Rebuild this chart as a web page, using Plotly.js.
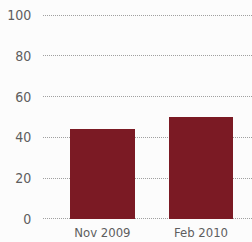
<!DOCTYPE html>
<html><head><meta charset="utf-8">
<script src="https://cdn.plot.ly/plotly-3.0.1.min.js"></script>
<style>html,body{margin:0;padding:0;background:#fcfcfc;}</style>
</head><body><div id="chart" style="width:252px;height:242px;"></div>
<script>
const categories = ["Nov 2009", "Feb 2010"];
const values = [44, 50];
const yTicks = [0, 20, 40, 60, 80, 100];

const trace = {
  type: 'bar', x: categories, y: values,
  width: 0.656,
  marker: {color: '#7b1a24', line: {width: 0}},
  hoverinfo: 'none'
};
const layout = {
  width: 252, height: 242,
  margin: {l: 43, r: 0, t: 14, b: 21.5, pad: 0},
  paper_bgcolor: '#fcfcfc', plot_bgcolor: '#fcfcfc',
  showlegend: false, bargap: 0,
  font: {family: '"DejaVu Sans Condensed", "Liberation Sans Narrow", sans-serif', size: 13, color: '#5e5e5e'},
  xaxis: {type: 'category', range: [-0.602, 1.517], showgrid: false, zeroline: false,
          showline: false, ticks: '', ticklabelstandoff: 3, tickfont: {size: 13}},
  yaxis: {range: [-0.5, 100.5], tickvals: yTicks, ticktext: yTicks.map(String),
          showgrid: true, gridcolor: '#a0a0a0', griddash: '1px,1px', gridwidth: 1,
          zeroline: false, showline: false, ticks: 'outside', ticklen: 8,
          tickcolor: 'rgba(0,0,0,0)', tickfont: {size: 14}}
};
Plotly.newPlot('chart', [trace], layout, {displayModeBar: false, staticPlot: true});
</script></body></html>
